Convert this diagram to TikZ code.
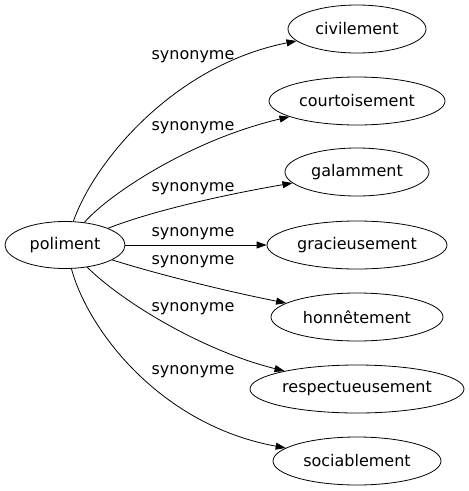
\documentclass[tikz,border=0pt]{standalone}
\usepackage{fontspec}
\setmainfont{DejaVu Sans}
\usetikzlibrary{shapes.geometric,arrows.meta}
\begin{document}
\begin{tikzpicture}[x=1pt,y=-1pt,
  word/.style={ellipse,draw,line width=0.8pt,inner sep=0pt,minimum height=48pt,font=\fontsize{16}{18}\selectfont},
  rel/.style={font=\fontsize{16}{18}\selectfont,inner sep=0pt},
  link/.style={line width=0.8pt,-{Triangle[length=10pt,width=7pt]}}]
\useasboundingbox (0,0) rectangle (469,491);
\node[word,minimum width=120pt,minimum height=47pt] (p) at (65,245) {poliment};
\node[word,minimum width=138pt] (c1) at (357,29) {civilement};
\node[word,minimum width=176pt] (c2) at (357,101) {courtoisement};
\node[word,minimum width=144pt] (c3) at (357,172) {galamment};
\node[word,minimum width=180pt] (c4) at (357,245) {gracieusement};
\node[word,minimum width=172pt] (c5) at (357,317) {honnêtement};
\node[word,minimum width=214pt] (c6) at (357,389) {respectueusement};
\node[word,minimum width=168pt] (c7) at (357,461) {sociablement};
\draw[link] (p) .. controls (95,160) and (175,65) .. (c1);
\draw[link] (p) .. controls (108,195) and (190,140) .. (c2);
\draw[link] (p) .. controls (160,208) and (240,192) .. (c3);
\draw[link] (p) -- (c4);
\draw[link] (p) .. controls (160,275) and (230,292) .. (c5);
\draw[link] (p) .. controls (120,300) and (200,350) .. (c6);
\draw[link] (p) .. controls (88,330) and (160,425) .. (c7);
\node[rel] (l1) at (193,57) {synonyme};
\node[rel] (l2) at (193,128) {synonyme};
\node[rel] (l3) at (193,189) {synonyme};
\node[rel] (l4) at (193,234) {synonyme};
\node[rel] (l5) at (193,262) {synonyme};
\node[rel] (l6) at (193,309) {synonyme};
\node[rel] (l7) at (193,372) {synonyme};
\end{tikzpicture}
\end{document}
